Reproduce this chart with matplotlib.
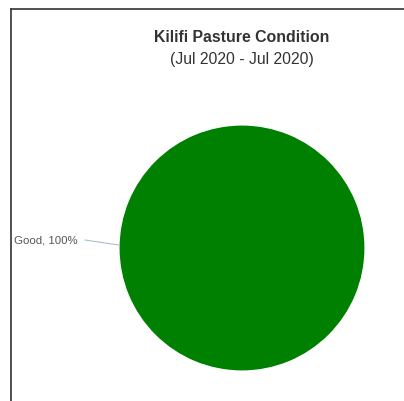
import matplotlib
matplotlib.use("Agg")
import matplotlib.pyplot as plt
from matplotlib.lines import Line2D

plt.rcParams['font.family'] = ['Liberation Sans', 'DejaVu Sans']

categories = ["Good"]
values = [100]
colors = ["#008000"]
title = "Kilifi Pasture Condition"
subtitle = "(Jul 2020 - Jul 2020)"

fig = plt.figure(figsize=(4.04, 4.01), dpi=100)
fig.patch.set_facecolor("white")

# frame lines (top and left)
fig.add_artist(Line2D([11/404, 11/404], [0, 1-8.5/401], transform=fig.transFigure, color="#333333", lw=1.2))
fig.add_artist(Line2D([11/404, 1], [1-8.5/401, 1-8.5/401], transform=fig.transFigure, color="#333333", lw=1.2))

fig.text(242/404, 1-38/401, title, ha="center", va="center", fontsize=11.4, fontweight="bold", color="#333333")
fig.text(242/404, 1-59.5/401, subtitle, ha="center", va="center", fontsize=11.3, color="#333333")

ax = fig.add_axes([(242-123)/404, (401-248-123)/401, 246/404, 246/401])
total = sum(values)
ax.pie(values, colors=colors, startangle=0, counterclock=True, radius=1.0,
       wedgeprops=dict(linewidth=0.8, edgecolor="white"))
ax.set_xlim(-1, 1)
ax.set_ylim(-1, 1)
ax.set_aspect("auto")
ax.axis("off")

for cat, v in zip(categories, values):
    pct = v / total * 100
    ax.plot([-1.276, -1.0], [0.065, 0.024], color="#a9bfcc", lw=0.8, clip_on=False)
    ax.text(-1.333, 0.06, f"{cat}, {pct:.0f}%", ha="right", va="center", fontsize=8.2, color="#555555", clip_on=False)

fig.savefig("out.png", dpi=100)
